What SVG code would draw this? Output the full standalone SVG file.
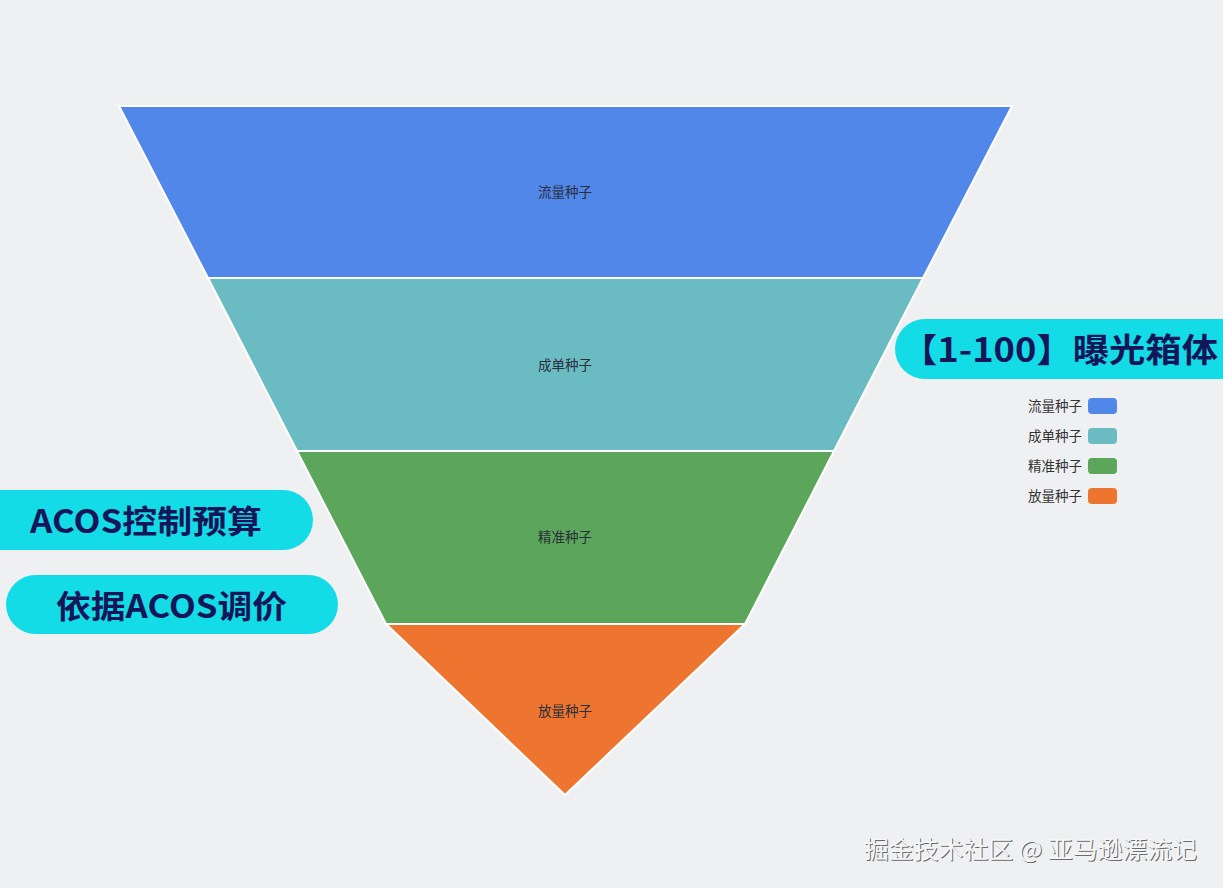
<svg xmlns="http://www.w3.org/2000/svg" width="1223" height="888" viewBox="0 0 1223 888">
<style>
.band{stroke:#ffffff;stroke-width:2;stroke-linejoin:miter}
.lbl{font-family:"Noto Sans CJK SC","Noto Sans",sans-serif;font-size:13.5px;fill:#2a2f3a;text-anchor:middle}
.leg{font-family:"Noto Sans CJK SC","Noto Sans",sans-serif;font-size:13.5px;fill:#333333;text-anchor:end}
.pill{fill:#14dce6}
.ptxt{font-family:"Noto Sans CJK SC","DejaVu Sans",sans-serif;font-weight:bold;fill:#15165a}
.wm{font-family:"Noto Sans CJK SC","Noto Sans",sans-serif;font-size:24px}
</style>
<rect x="0" y="0" width="1223" height="888" fill="#eef0f2"/>
<g id="funnel">
<g id="band1"><polygon class="band" points="119,106 1012,106 923,278 208,278" fill="#5087e8"/><text class="lbl" x="565" y="197">流量种子</text></g>
<g id="band2"><polygon class="band" points="208,278 923,278 834,451 297,451" fill="#6bbbc3"/><text class="lbl" x="565" y="370">成单种子</text></g>
<g id="band3"><polygon class="band" points="297,451 834,451 745,624 386,624" fill="#5ca65c"/><text class="lbl" x="565" y="542">精准种子</text></g>
<g id="band4"><polygon class="band" points="386,624 745,624 565,795" fill="#ee7530"/><text class="lbl" x="565" y="716">放量种子</text></g>
</g>
<g id="legend">
<text class="leg" x="1082" y="411">流量种子</text><rect x="1088" y="398" width="29" height="16" rx="4" fill="#5087e8"/>
<text class="leg" x="1082" y="441">成单种子</text><rect x="1088" y="428" width="29" height="16" rx="4" fill="#6bbbc3"/>
<text class="leg" x="1082" y="471">精准种子</text><rect x="1088" y="458" width="29" height="16" rx="4" fill="#5ca65c"/>
<text class="leg" x="1082" y="501">放量种子</text><rect x="1088" y="488" width="29" height="16" rx="4" fill="#ee7530"/>
</g>
<g id="pill-exposure">
<rect class="pill" x="895" y="319" width="360" height="60" rx="30"/>
<text class="ptxt" x="901" y="362" font-size="33" textLength="317" lengthAdjust="spacingAndGlyphs">【1-100】曝光箱体</text>
</g>
<g id="pill-budget">
<rect class="pill" x="-40" y="490" width="353" height="60" rx="30"/>
<text class="ptxt" x="30" y="533" font-size="32" textLength="232" lengthAdjust="spacingAndGlyphs">ACOS控制预算</text>
</g>
<g id="pill-price">
<rect class="pill" x="6" y="575" width="332" height="59" rx="29.5"/>
<text class="ptxt" x="56" y="618" font-size="32" textLength="231" lengthAdjust="spacingAndGlyphs">依据ACOS调价</text>
</g>
<g id="watermark">
<text class="wm" x="865" y="859" fill="#6a6a6a" textLength="333" lengthAdjust="spacingAndGlyphs">掘金技术社区 @ 亚马逊漂流记</text>
<text class="wm" x="864" y="858" fill="#f6f6f6" textLength="333" lengthAdjust="spacingAndGlyphs">掘金技术社区 @ 亚马逊漂流记</text>
</g>
</svg>
